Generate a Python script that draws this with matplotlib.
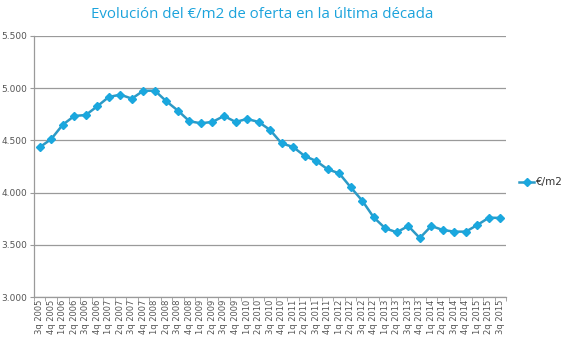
import numpy as np
import matplotlib.pyplot as plt
from matplotlib.ticker import FuncFormatter

# quarterly offer price per square metre
quarters = ["3q 2005", "4q 2005",
            "1q 2006", "2q 2006", "3q 2006", "4q 2006",
            "1q 2007", "2q 2007", "3q 2007", "4q 2007",
            "1q 2008", "2q 2008", "3q 2008", "4q 2008",
            "1q 2009", "2q 2009", "3q 2009", "4q 2009",
            "1q 2010", "2q 2010", "3q 2010", "4q 2010",
            "1q 2011", "2q 2011", "3q 2011", "4q 2011",
            "1q 2012", "2q 2012", "3q 2012", "4q 2012",
            "1q 2013", "2q 2013", "3q 2013", "4q 2013",
            "1q 2014", "2q 2014", "3q 2014", "4q 2014",
            "1q 2015", "2q 2015", "3q 2015"]
price = [4434, 4513,
         4650, 4734, 4743, 4827,
         4916, 4938, 4900, 4976,
         4976, 4874, 4785, 4683,
         4664, 4677, 4734, 4677,
         4705, 4677, 4600, 4472,
         4437, 4351, 4303, 4223,
         4185, 4051, 3923, 3763,
         3658, 3620, 3680, 3565,
         3680, 3642, 3626, 3626,
         3690, 3760, 3757]

line_col = "#2c9ac6"
mark_col = "#1aa7de"
grey = "#9a9a9a"

fig = plt.figure(figsize=(5.7, 3.46), dpi=100)
ax = fig.add_axes([0.0596, 0.1416, 0.8284, 0.7544])

x = np.arange(len(quarters))
ax.plot(x, price, color=line_col, lw=1.8, marker="D", ms=3.6,
        mfc=mark_col, mec=mark_col, label="€/m2", zorder=3)

ax.set_xlim(-0.5, len(quarters) - 0.5)
ax.set_ylim(3000, 5500)
ax.set_yticks(np.arange(3000, 5501, 500))
ax.yaxis.set_major_formatter(FuncFormatter(lambda v, p: f"{int(v):,}".replace(",", ".")))
ax.grid(axis="y", color=grey, lw=0.9)
ax.set_axisbelow(True)

# category labels centred, tick marks between categories
ax.set_xticks(x)
ax.set_xticklabels(quarters, rotation=90, fontsize=6, color="#555555")
ax.set_xticks(np.arange(-0.5, len(quarters), 1), minor=True)
ax.tick_params(axis="x", which="major", length=0, pad=2)
ax.tick_params(axis="x", which="minor", length=3, color=grey)
ax.tick_params(axis="y", labelsize=6.5, labelcolor="#555555", length=3, color=grey, pad=2)

for s in ["top", "right"]:
    ax.spines[s].set_visible(False)
for s in ["left", "bottom"]:
    ax.spines[s].set_color(grey)
    ax.spines[s].set_linewidth(0.9)

fig.text(0.46, 0.957, "Evolución del €/m2 de oferta en la última década",
         ha="center", va="center", fontsize=10.8, color="#1ba3dc", family="Open Sans")

leg = ax.legend(loc="center left", bbox_to_anchor=(1.018, 0.44), frameon=False,
                fontsize=7.5, handlelength=1.5, handletextpad=0.15, borderpad=0.2,
                borderaxespad=0.2, labelcolor="#333333")

fig.savefig("out.png", dpi=100)
